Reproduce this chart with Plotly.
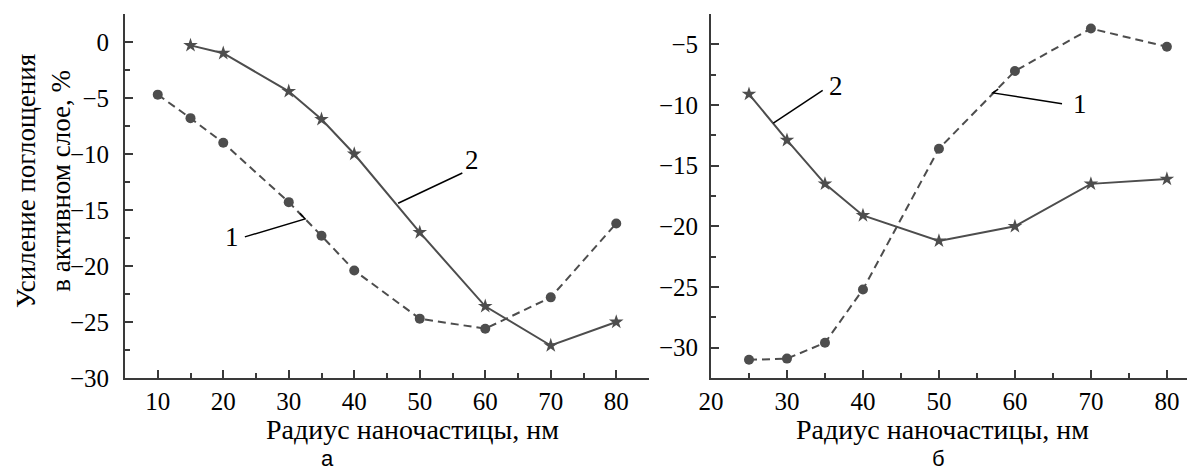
import plotly.graph_objects as go
from plotly.subplots import make_subplots

# Panel а
a_r_1 = [10, 15, 20, 30, 35, 40, 50, 60, 70, 80]
a_v_1 = [-4.7, -6.8, -9.0, -14.3, -17.3, -20.4, -24.7, -25.6, -22.8, -16.2]
a_r_2 = [15, 20, 30, 35, 40, 50, 60, 70, 80]
a_v_2 = [-0.3, -1.0, -4.4, -6.9, -10.0, -17.0, -23.6, -27.1, -25.0]

# Panel б
b_r_1 = [25, 30, 35, 40, 50, 60, 70, 80]
b_v_1 = [-31.0, -30.9, -29.6, -25.2, -13.6, -7.2, -3.7, -5.2]
b_r_2 = [25, 30, 35, 40, 50, 60, 70, 80]
b_v_2 = [-9.1, -12.9, -16.5, -19.1, -21.2, -20.0, -16.5, -16.1]

x_title = "Радиус наночастицы, нм"
y_title = "Усиление поглощения<br>в активном слое, %"
panel_labels = ["а", "б"]

# page body has an 8px default margin; figure sized to fill the rest of the window
W, H = 1187, 465
LINE = "#4d4d4d"
AX = "#3a3a3a"
SERIF = "Liberation Serif, Times New Roman, serif"

fig = make_subplots(rows=1, cols=2)

def add_pair(col, r1, v1, r2, v2):
    fig.add_trace(go.Scatter(x=r1, y=v1, mode="lines+markers",
                             line=dict(color=LINE, width=2, dash="8px,5px"),
                             marker=dict(symbol="circle", size=10, color=LINE),
                             showlegend=False), row=1, col=col)
    fig.add_trace(go.Scatter(x=r2, y=v2, mode="lines+markers",
                             line=dict(color=LINE, width=2),
                             marker=dict(symbol="star", size=11, color=LINE),
                             showlegend=False), row=1, col=col)

add_pair(1, a_r_1, a_v_1, a_r_2, a_v_2)
add_pair(2, b_r_1, b_v_1, b_r_2, b_v_2)

ydom = [1 - 370 / H, 1 - 6 / H]
minor = dict(ticks="inside", ticklen=5, tickcolor=AX, tickwidth=1.5)
axcommon = dict(showgrid=False, zeroline=False, showline=True, linecolor=AX, linewidth=1.8,
                ticks="inside", ticklen=8, tickwidth=1.5, tickcolor=AX, automargin=False,
                tickfont=dict(family=SERIF, size=25, color="black"))

fig.update_layout(
    width=W, height=H, margin=dict(l=0, r=0, t=0, b=0, pad=0),
    paper_bgcolor="white", plot_bgcolor="white",
    xaxis=dict(domain=[117 / W, 641 / W], range=[5, 85], dtick=10, tick0=0,
               minor=dict(dtick=5, **minor), **axcommon),
    yaxis=dict(domain=ydom, range=[-30, 2.5], dtick=5, tick0=0, ticklabelstandoff=9,
               minor=dict(dtick=2.5, **minor), **axcommon),
    xaxis2=dict(domain=[703 / W, 1.0], range=[20, 83.7], dtick=10, tick0=0,
                minor=dict(dtick=5, **minor), **axcommon),
    yaxis2=dict(domain=ydom, range=[-32.5, -2.5], dtick=5, tick0=0, ticklabelstandoff=6,
                minor=dict(dtick=2.5, **minor), **axcommon),
)

# leader lines and curve numbers (data coordinates)
callouts = [
    ("x", "y", "1", 21.3, -17.4, [(31.7, -15.3), (32.5, -15.8), (23.3, -17.4)]),
    ("x", "y", "2", 58.0, -10.5, [(56.5, -11.7), (46.7, -14.4)]),
    ("x2", "y2", "2", 36.4, -8.4, [(34.7, -8.8), (28.2, -11.5)]),
    ("x2", "y2", "1", 68.6, -9.9, [(66.2, -9.9), (57.1, -9.0), (57.8, -8.7)]),
]
for xr, yr, txt, tx, ty, pts in callouts:
    path = "M " + " L ".join(f"{px},{py}" for px, py in pts)
    fig.add_shape(type="path", path=path, xref=xr, yref=yr,
                  line=dict(color="black", width=1.5))
    fig.add_annotation(x=tx, y=ty, xref=xr, yref=yr, text=txt, showarrow=False,
                       font=dict(family=SERIF, size=27, color="black"))

# axis titles
for cx in (404, 934):
    fig.add_annotation(x=cx / W, y=1 - 421 / H, xref="paper", yref="paper", text=x_title,
                       showarrow=False, xanchor="center", yanchor="middle",
                       font=dict(family=SERIF, size=28, color="black"))
fig.add_annotation(x=35 / W, y=1 - 173 / H, xref="paper", yref="paper", text=y_title,
                   showarrow=False, textangle=-90, xanchor="center", yanchor="middle",
                   font=dict(family=SERIF, size=27, color="black"))
for lbl, cx in zip(panel_labels, (319, 930)):
    fig.add_annotation(x=cx / W, y=0, xref="paper", yref="paper", text=lbl,
                       showarrow=False, xanchor="center", yanchor="bottom",
                       font=dict(family="Liberation Sans, Arial, sans-serif", size=22, color="black"))

fig.write_html("out.html")
